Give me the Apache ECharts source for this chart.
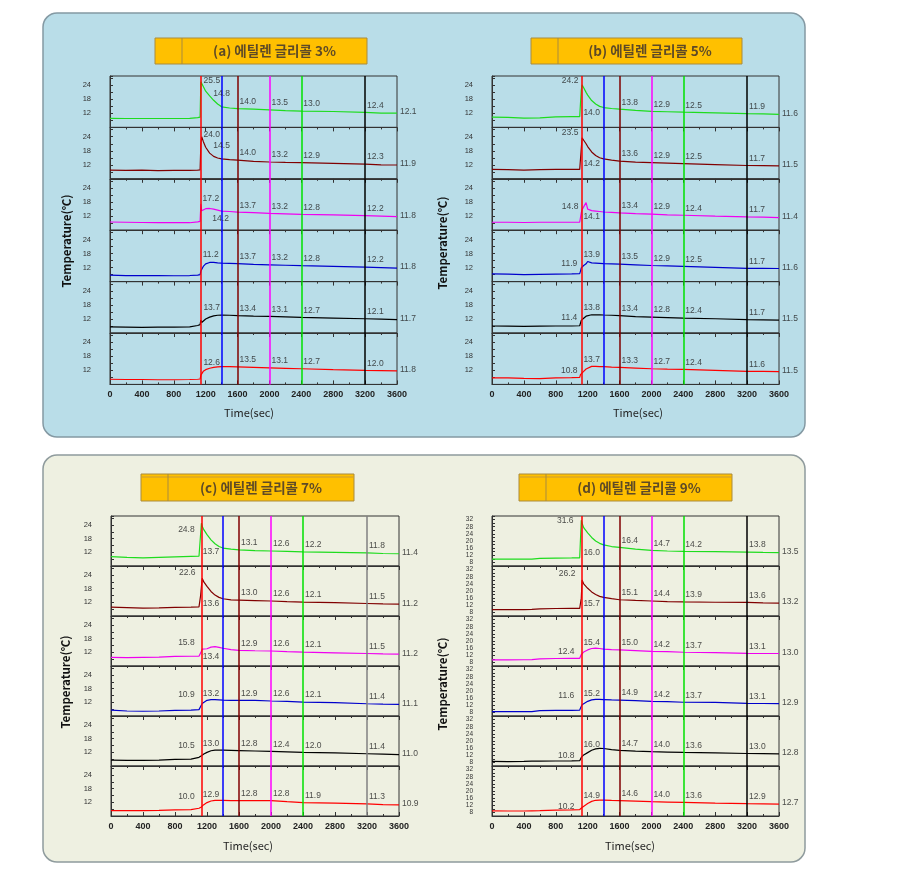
<!DOCTYPE html>
<html><head><meta charset="utf-8">
<script src="https://cdn.jsdelivr.net/npm/echarts@6/dist/echarts.min.js"></script>
<style>html,body{margin:0;padding:0;background:#fff}#c{width:902px;height:882px}</style>
</head><body><div id="c"></div><script>
// ---------- DATA ----------
const xTickLabels = [0,400,800,1200,1600,2000,2400,2800,3200,3600];
const lineLabelTimes = [1600, 2000, 2400, 3200];

// (a) Ethylene glycol 3%
const aTimes = [0,200,400,600,800,1000,1100,1130,1140,1150,1170,1200,1250,1300,1350,1400,1500,1600,1800,2000,2200,2400,2800,3200,3400,3600];
const aEvents = [1140,1400,1600,2000,2400,3200];
const a1 = [9.9,9.8,9.8,9.8,9.8,9.9,10.2,10.4,25.5,25.0,23.5,21.5,19.5,17.6,16.0,14.8,14.3,14.0,13.8,13.5,13.2,13.0,12.8,12.4,12.1,12.1];
const a2 = [9.7,9.6,9.7,9.5,9.6,9.6,9.7,9.8,21.0,24.0,22.0,19.5,17.0,15.6,14.9,14.5,14.2,14.0,13.5,13.2,13.0,12.9,12.6,12.3,12.0,11.9];
const a3 = [9.5,9.4,9.3,9.2,9.2,9.2,9.6,9.8,17.2,14.3,14.8,15.2,15.3,15.0,14.6,14.2,14.0,13.7,13.5,13.2,13.0,12.8,12.6,12.2,12.0,11.8];
const a4 = [8.8,8.6,8.6,8.6,8.5,8.6,8.8,9.0,10.5,11.2,12.5,13.6,14.2,14.2,14.0,13.9,13.8,13.7,13.4,13.2,13.0,12.8,12.5,12.2,12.0,11.8];
const a5 = [8.6,8.5,8.4,8.5,8.5,8.6,9.2,9.6,11.5,10.5,11.2,12.0,12.8,13.3,13.6,13.7,13.6,13.4,13.2,13.1,12.9,12.7,12.4,12.1,11.9,11.7];
const a6 = [8.2,8.1,8.1,8.0,8.0,8.1,8.2,8.3,10.0,10.8,11.6,12.3,12.9,13.3,13.5,13.6,13.6,13.5,13.3,13.1,12.9,12.7,12.3,12.0,11.9,11.8];
const aLabels = [
  [25.5,14.8,14.0,13.5,13.0,12.4,12.1],
  [24.0,14.5,14.0,13.2,12.9,12.3,11.9],
  [17.2,14.2,13.7,13.2,12.8,12.2,11.8],
  [11.2,null,13.7,13.2,12.8,12.2,11.8],
  [13.7,null,13.4,13.1,12.7,12.1,11.7],
  [12.6,null,13.5,13.1,12.7,12.0,11.8]
];

// (b) Ethylene glycol 5%
const bTimes = [0,200,400,600,800,1000,1100,1110,1120,1130,1150,1180,1200,1250,1300,1350,1400,1500,1600,1800,2000,2200,2400,2800,3200,3400,3600];
const bEvents = [1120,1400,1600,2000,2400,3200];
const b1 = [10.4,10.3,10.0,10.1,10.5,10.6,10.6,10.7,22.0,24.2,23.0,21.0,19.8,17.5,16.0,15.0,14.5,14.1,13.8,13.3,12.9,12.7,12.5,12.2,11.9,11.8,11.6];
const b2 = [10.0,9.9,9.7,9.9,10.0,10.0,10.0,10.1,19.0,23.5,22.5,21.0,19.8,17.5,16.0,15.0,14.5,14.0,13.6,13.1,12.9,12.7,12.5,12.1,11.7,11.6,11.5];
const b3 = [9.4,9.4,9.3,9.4,9.4,9.4,9.4,9.5,13.5,14.8,14.1,17.8,15.0,14.4,14.2,14.0,13.8,13.6,13.4,13.1,12.9,12.6,12.4,12.0,11.7,11.6,11.4];
const b4 = [9.3,9.2,9.0,9.1,9.2,9.3,9.4,10.5,11.9,12.5,12.9,13.6,14.6,14.0,13.9,13.8,13.7,13.6,13.5,13.2,12.9,12.7,12.5,12.1,11.7,11.7,11.6];
const b5 = [9.0,8.9,8.8,8.9,9.0,9.0,9.1,9.8,11.4,11.8,12.3,13.2,13.6,13.8,13.8,13.8,13.7,13.6,13.4,13.0,12.8,12.6,12.4,12.1,11.7,11.6,11.5];
const b6 = [8.8,8.8,8.6,8.5,8.8,8.9,9.0,10.2,10.8,11.0,11.6,12.6,13.2,13.7,13.7,13.6,13.6,13.4,13.3,13.0,12.7,12.5,12.4,12.0,11.6,11.6,11.5];
const bLabels = [
  [24.2,14.0,13.8,12.9,12.5,11.9,11.6],
  [23.5,14.2,13.6,12.9,12.5,11.7,11.5],
  [14.8,14.1,13.4,12.9,12.4,11.7,11.4],
  [11.9,13.9,13.5,12.9,12.5,11.7,11.6],
  [11.4,13.8,13.4,12.8,12.4,11.7,11.5],
  [10.8,13.7,13.3,12.7,12.4,11.6,11.5]
];

// (c) Ethylene glycol 7%
const cTimes = [0,200,400,600,800,1000,1100,1120,1130,1140,1160,1200,1250,1300,1350,1400,1500,1600,1800,2000,2200,2400,2800,3200,3400,3600];
const cEvents = [1130,1400,1600,2000,2400,3200];
const c1 = [10.1,9.8,9.6,9.8,10.0,10.2,10.3,10.4,24.8,23.5,22.0,19.8,17.5,15.8,14.6,13.9,13.4,13.1,12.8,12.6,12.4,12.2,12.0,11.8,11.5,11.4];
const c2 = [9.9,9.7,9.5,9.6,9.8,9.9,10.0,15.0,15.2,22.6,21.0,19.0,16.8,15.2,14.2,13.6,13.1,13.0,12.8,12.6,12.3,12.1,11.9,11.5,11.3,11.2];
const c3 = [9.8,9.7,9.8,9.9,10.2,10.3,10.3,10.4,12.5,13.4,13.2,13.6,14.3,14.5,14.2,13.8,13.2,12.9,12.7,12.6,12.3,12.1,11.8,11.5,11.3,11.2];
const c4 = [8.6,8.2,8.1,8.2,8.5,8.6,8.8,10.2,10.9,11.5,12.2,12.9,13.2,13.2,13.1,13.0,12.9,12.9,12.9,12.6,12.4,12.1,11.9,11.4,11.2,11.1];
const c5 = [8.6,8.5,8.5,8.6,8.9,9.0,9.8,10.3,10.5,10.8,11.3,12.0,12.7,13.0,13.0,13.0,12.9,12.8,12.6,12.4,12.2,12.0,11.8,11.4,11.2,11.0];
const c6 = [8.4,8.4,8.4,8.5,8.7,8.8,9.4,9.8,10.0,10.4,11.0,11.9,12.6,12.9,12.9,12.9,12.8,12.8,12.8,12.8,12.3,11.9,11.7,11.3,11.0,10.9];
const cLabels = [
  [24.8,13.7,13.1,12.6,12.2,11.8,11.4],
  [22.6,13.6,13.0,12.6,12.1,11.5,11.2],
  [15.8,13.4,12.9,12.6,12.1,11.5,11.2],
  [10.9,13.2,12.9,12.6,12.1,11.4,11.1],
  [10.5,13.0,12.8,12.4,12.0,11.4,11.0],
  [10.0,12.9,12.8,12.8,11.9,11.3,10.9]
];

// (d) Ethylene glycol 9%
const dTimes = [0,200,400,500,600,800,1000,1100,1110,1120,1130,1150,1200,1250,1300,1350,1400,1500,1600,1800,2000,2200,2400,2800,3200,3400,3600];
const dEvents = [1120,1400,1600,2000,2400,3200];
const d1 = [9.8,9.8,9.8,9.9,10.3,10.4,10.5,10.6,10.6,31.6,30.0,27.5,24.5,22.0,20.0,18.7,17.8,16.9,16.4,15.4,14.7,14.4,14.2,14.0,13.8,13.6,13.5];
const d2 = [9.6,9.6,9.6,9.7,10.0,10.2,10.3,10.3,10.4,16.0,26.2,24.0,21.5,19.5,18.0,17.0,16.4,15.7,15.1,14.7,14.4,14.1,13.9,13.7,13.6,13.3,13.2];
const d3 = [9.4,9.4,9.5,9.6,10.0,10.2,10.3,10.3,10.4,12.4,13.0,13.8,15.0,15.8,16.0,15.8,15.5,15.2,15.0,14.6,14.2,14.0,13.7,13.5,13.1,13.0,13.0];
const d4 = [8.4,8.4,8.4,8.5,9.0,9.2,9.2,9.3,10.5,11.6,12.3,13.0,14.2,15.0,15.3,15.3,15.2,15.0,14.9,14.6,14.2,14.0,13.7,13.6,13.1,13.0,12.9];
const d5 = [8.6,8.5,8.6,8.7,8.7,8.8,8.9,9.0,9.8,10.8,11.5,12.2,13.5,14.8,15.6,15.9,15.8,15.2,14.7,14.3,14.0,13.8,13.6,13.3,13.0,12.9,12.8];
const d6 = [8.9,8.8,8.8,8.9,9.0,9.3,9.4,9.6,9.9,10.2,10.8,11.8,13.0,14.2,14.8,14.9,14.9,14.7,14.6,14.3,14.0,13.8,13.6,13.2,12.9,12.8,12.7];
const dLabels = [
  [31.6,16.0,16.4,14.7,14.2,13.8,13.5],
  [26.2,15.7,15.1,14.4,13.9,13.6,13.2],
  [12.4,15.4,15.0,14.2,13.7,13.1,13.0],
  [11.6,15.2,14.9,14.2,13.7,13.1,12.9],
  [10.8,16.0,14.7,14.0,13.6,13.0,12.8],
  [10.2,14.9,14.6,14.0,13.6,12.9,12.7]
];

const titles = ['(a) 에틸렌 글리콜 3%','(b) 에틸렌 글리콜 5%','(c) 에틸렌 글리콜 7%','(d) 에틸렌 글리콜 9%'];

// ---------- LAYOUT / STYLE ----------
const seriesColors = ['#1edc1e','#800000','#f000f0','#0000cc','#000000','#ff0000'];
const evColorsStd = ['#ff0000','#0000ff','#800000','#ff00ff','#00e000','#000000'];
const evColorsC = ['#ff0000','#0000ff','#800000','#ff00ff','#00e000','#808080'];
// jump-label anchors: [anchor time on curve, dx, dy] in pixels
const jumpA = [[[1140,11,-1],[1400,0,-13]],[[1150,10,-2],[1400,0,-13]],[[1140,10,-5],[1400,-1,8]],[[1250,1,-8],null],[[1250,2,-9],null],[[1250,2,-6],null]];
const jumpB = [[[1130,-12,-4],[1250,0,12]],[[1130,-12,-5],[1250,0,12]],[[1130,-12,-3],[1250,0,6]],[[1120,-12,-4],[1250,0,-8]],[[1120,-12,-3],[1250,0,-7]],[[1120,-12,-3],[1250,0,-7]]];
const jumpC = [[[1130,-15,6],[1250,0,12]],[[1140,-15,-6],[1250,0,12]],[[1130,-15,-9],[1250,0,10]],[[1130,-15,-10],[1250,0,-6]],[[1130,-15,-10],[1250,0,-7]],[[1130,-15,-10],[1250,0,-6]]];
const jumpD = [[[1120,-16,0],[1250,0,15]],[[1130,-15,-6],[1250,0,12]],[[1120,-15,-3],[1250,0,-6]],[[1120,-15,-10],[1250,0,-6]],[[1120,-15,-2],[1250,0,-6]],[[1120,-15,-2],[1250,0,-6]]];

const panels = [
  {times:aTimes, series:[a1,a2,a3,a4,a5,a6], labels:aLabels, events:aEvents, evColors:evColorsStd, jump:jumpA,
   left:110, top:76, width:287, subH:51.4, yMin:6, yMax:28, yInt:3, yFmt:v=>(v===12||v===18||v===24)?String(v):'', yFont:7.5},
  {times:bTimes, series:[b1,b2,b3,b4,b5,b6], labels:bLabels, events:bEvents, evColors:evColorsStd, jump:jumpB,
   left:492, top:76, width:287, subH:51.4, yMin:6, yMax:28, yInt:3, yFmt:v=>(v===12||v===18||v===24)?String(v):'', yFont:7.5},
  {times:cTimes, series:[c1,c2,c3,c4,c5,c6], labels:cLabels, events:cEvents, evColors:evColorsC, jump:jumpC,
   left:111, top:516, width:288, subH:50, yMin:6, yMax:28, yInt:3, yFmt:v=>(v===12||v===18||v===24)?String(v):'', yFont:7.5},
  {times:dTimes, series:[d1,d2,d3,d4,d5,d6], labels:dLabels, events:dEvents, evColors:evColorsStd, jump:jumpD,
   left:492, top:516, width:287, subH:50, yMin:6, yMax:34, yInt:2, yFmt:v=>(v%4===0&&v>=8&&v<=32)?String(v):'', yFont:6.5}
];

const grids=[], xAxes=[], yAxes=[], series=[];
panels.forEach(p=>{
  for(let s=0;s<6;s++){
    const gi = grids.length;
    const isBottom = s===5;
    grids.push({left:p.left, top:p.top+s*p.subH, width:p.width, height:p.subH, show:true,
      borderColor:'#333', borderWidth:1, backgroundColor:'transparent'});
    xAxes.push({gridIndex:gi, type:'value', min:0, max:3600, interval:400,
      axisLine:{show:true, onZero:false, lineStyle:{color:'#333', width:1}},
      axisTick:{show:true, inside:isBottom, length:4, lineStyle:{color:'#333'}},
      minorTick:{show:true, splitNumber:2, length:2, lineStyle:{color:'#333'}},
      splitLine:{show:false}, minorSplitLine:{show:false},
      axisLabel:{show:isBottom, fontSize:9, fontWeight:'bold', color:'#222', margin:6, fontFamily:'Liberation Sans',
        formatter:v=>xTickLabels.indexOf(v)>=0?String(v):''}});
    yAxes.push({gridIndex:gi, type:'value', min:p.yMin, max:p.yMax, interval:p.yInt,
      axisLine:{show:true, onZero:false, lineStyle:{color:'#333', width:1}},
      axisTick:{show:true, inside:true, length:3, lineStyle:{color:'#333'}},
      splitLine:{show:false},
      axisLabel:{show:true, fontSize:p.yFont, color:'#333', margin:19, fontFamily:'Liberation Sans', formatter:p.yFmt, showMinLabel:true, showMaxLabel:true}});
    const vals = p.series[s];
    const times = p.times;
    series.push({type:'line', xAxisIndex:gi, yAxisIndex:gi, data:times.map((t,i)=>[t,vals[i]]),
      showSymbol:false, symbol:'none', animation:false, silent:true,
      lineStyle:{color:seriesColors[s], width:1.2}, itemStyle:{color:seriesColors[s]},
      markLine:{silent:true, symbol:['none','none'], animation:false, label:{show:false},
        emphasis:{disabled:true},
        data:p.events.map((t,k)=>({xAxis:t, lineStyle:{color:p.evColors[k], width:1.5, type:'solid', opacity:1}}))}});
    const lab = p.labels[s];
    const curve = t => vals[times.indexOf(t)];
    const items = [];
    const jl = p.jump[s];
    [0,1].forEach(k=>{
      if(lab[k]!=null && jl[k]){
        items.push({value:[jl[k][0], curve(jl[k][0])],
          label:{formatter:lab[k].toFixed(1), position:'inside', align:'center', offset:[jl[k][1], jl[k][2]]}});
      }
    });
    lineLabelTimes.forEach((t,k)=>{
      items.push({value:[t, curve(t)], label:{formatter:lab[k+2].toFixed(1), position:'inside', align:'left', offset:[2,-7]}});
    });
    items.push({value:[3600, curve(3600)], label:{formatter:lab[6].toFixed(1), position:'inside', align:'left', offset:[3,-1]}});
    series.push({type:'scatter', xAxisIndex:gi, yAxisIndex:gi, data:items, symbol:'circle', symbolSize:1,
      itemStyle:{color:'rgba(0,0,0,0)'}, silent:true, animation:false, z:6,
      label:{show:true, fontSize:8.5, color:'#222', fontFamily:'Liberation Sans', verticalAlign:'middle'}});
  }
});

// ---------- GRAPHIC (backgrounds, title boxes, axis names) ----------
const titleBoxes = [
  {x:155, y:38, w:212, h:26, sep:182, stripe:false},
  {x:531, y:38, w:211, h:26, sep:558, stripe:false},
  {x:141, y:474, w:213, h:27, sep:168, stripe:true},
  {x:519, y:474, w:213, h:27, sep:546, stripe:true}
];
const graphic = [
  {type:'rect', z:-10, shape:{x:43, y:13, width:762, height:424, r:14}, style:{fill:'#b9dde8', stroke:'#8499a3', lineWidth:1.5}},
  {type:'rect', z:-10, shape:{x:43, y:455, width:762, height:407, r:14}, style:{fill:'#eef0e1', stroke:'#8f9b9d', lineWidth:1.5}}
];
titleBoxes.forEach((b,i)=>{
  graphic.push({type:'rect', z:-5, shape:{x:b.x, y:b.y, width:b.w, height:b.h}, style:{fill:'#ffc000', stroke:'#a98b3e', lineWidth:1}});
  if(b.stripe) graphic.push({type:'line', z:-4, shape:{x1:b.x+1, y1:b.y+3, x2:b.x+b.w-1, y2:b.y+3}, style:{stroke:'#c79a3a', lineWidth:1}});
  graphic.push({type:'line', z:-4, shape:{x1:b.sep, y1:b.y, x2:b.sep, y2:b.y+b.h}, style:{stroke:'#a98b3e', lineWidth:1}});
  graphic.push({type:'text', z:-3, x:(b.sep+b.x+b.w)/2, y:b.y+b.h/2,
    style:{text:titles[i], font:'bold 13.5px "Noto Sans CJK KR"', fill:'#5e4a26', align:'center', verticalAlign:'middle', textAlign:'center', textVerticalAlign:'middle'}});
});
const yNamePos = [[67,241],[443,243],[66,682],[443,684]];
const xNamePos = [[249,413],[638,413],[248,846],[630,846]];
yNamePos.forEach(pt=>graphic.push({type:'text', x:pt[0], y:pt[1], rotation:Math.PI/2,
  style:{text:'Temperature(℃)', font:'bold 11.5px "Noto Sans CJK KR"', fill:'#111', align:'center', verticalAlign:'middle', textAlign:'center', textVerticalAlign:'middle'}}));
xNamePos.forEach(pt=>graphic.push({type:'text', x:pt[0], y:pt[1],
  style:{text:'Time(sec)', font:'11px "Noto Sans CJK KR"', fill:'#222', align:'center', verticalAlign:'middle', textAlign:'center', textVerticalAlign:'middle'}}));

const chart = echarts.init(document.getElementById('c'), null, {renderer:'canvas', width:902, height:882});
chart.setOption({animation:false, backgroundColor:'#ffffff', grid:grids, xAxis:xAxes, yAxis:yAxes, series:series, graphic:graphic});
</script></body></html>
